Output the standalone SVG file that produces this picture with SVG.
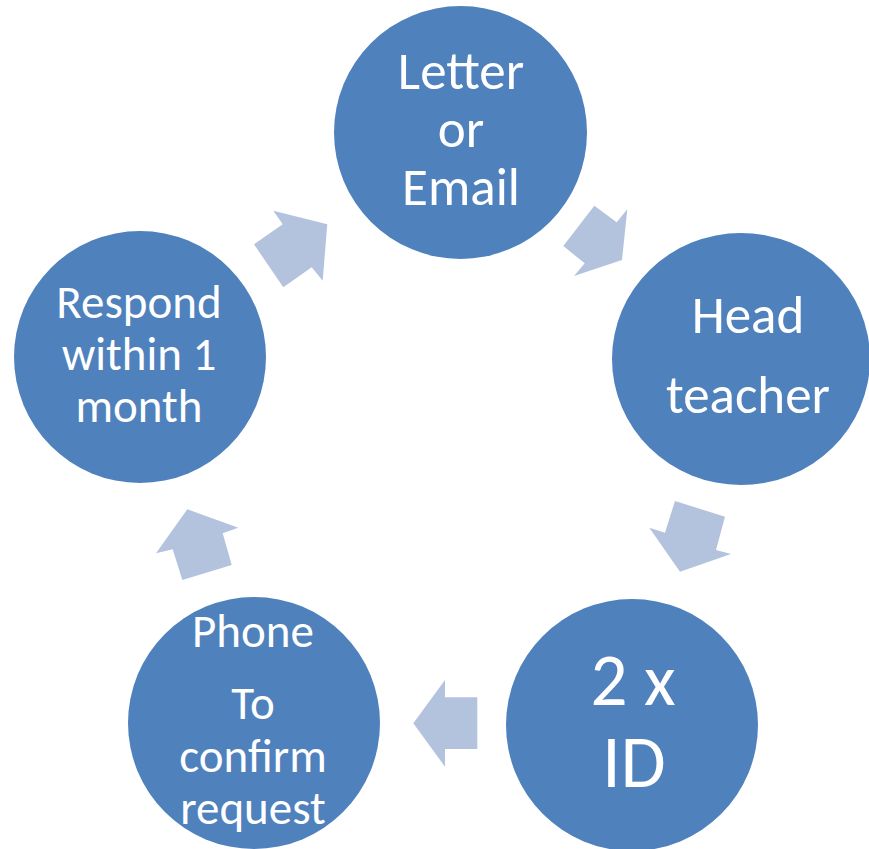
<svg xmlns="http://www.w3.org/2000/svg" width="869" height="849" viewBox="0 0 869 849">
  <style>
    .node { fill: #4F81BD; }
    .arrow { fill: #B3C3DE; }
    .label { fill: #FFFFFF; font-family: Carlito, Lato, "Open Sans", sans-serif; text-anchor: middle; }
    .s47 { font-size: 47px; }
    .s53 { font-size: 53px; }
    .s73 { font-size: 73px; }
  </style>
  <rect width="869" height="849" fill="#FFFFFF"/>

  <!-- cycle arrows between the steps -->
  <g id="connectors">
    <polygon class="arrow" points="273.3,210.7 327.3,224.3 322.7,280.7 311.7,267.3 283.3,287.3 254,244.3 282.7,224.3"/>
    <polygon class="arrow" points="594.3,205.7 616.7,222.3 627.3,209.3 622,260 574,276 584.7,263.3 563.3,246"/>
    <polygon class="arrow" points="675,501 725,516.7 716,550 731,554 680,571.7 649.3,527.7 665,532.7"/>
    <polygon class="arrow" points="477.3,697.3 445,697.3 445,680 413.3,723.3 445,766.7 445,749 477.3,749"/>
    <polygon class="arrow" points="187.3,509.3 238.3,527.7 222.7,533.3 231.7,565 182.3,580 172.7,549.3 156,553.3"/>
  </g>

  <g id="node-letter">
    <circle class="node" cx="460.5" cy="132.5" r="126.5"/>
    <text class="label s53" x="461" y="89">Letter</text>
    <text class="label s53" x="461" y="147">or</text>
    <text class="label s53" x="461" y="205">Email</text>
  </g>

  <g id="node-head">
    <ellipse class="node" cx="741" cy="359" rx="129" ry="126"/>
    <text class="label s53" x="748" y="333">Head</text>
    <text class="label s53" x="748" y="413">teacher</text>
  </g>

  <g id="node-id">
    <circle class="node" cx="632" cy="725" r="126"/>
    <text class="label s73" x="633" y="705">2 x</text>
    <text class="label s73" x="634" y="787">ID</text>
  </g>

  <g id="node-phone">
    <circle class="node" cx="254" cy="723" r="126"/>
    <text class="label s47" x="253" y="647">Phone</text>
    <text class="label s47" x="253" y="719">To</text>
    <text class="label s47" x="253" y="772">confirm</text>
    <text class="label s47" x="253" y="824">request</text>
  </g>

  <g id="node-respond">
    <circle class="node" cx="140" cy="357" r="126"/>
    <text class="label s47" x="139" y="318">Respond</text>
    <text class="label s47" x="139" y="370">within 1</text>
    <text class="label s47" x="139" y="422">month</text>
  </g>
</svg>
